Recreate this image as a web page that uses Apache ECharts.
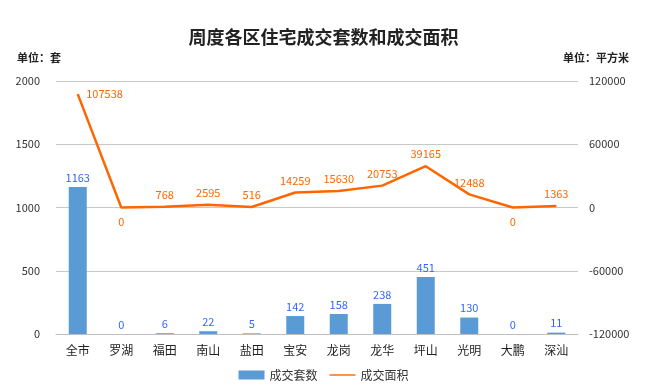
<!DOCTYPE html>
<html><head><meta charset="utf-8">
<script src="https://cdn.jsdelivr.net/npm/echarts@6/dist/echarts.min.js"></script>
<style>html,body{margin:0;padding:0;background:#fff}#c{width:647px;height:390px}</style>
</head><body><div id="c"></div>
<script>
const categories = ['全市','罗湖','福田','南山','盐田','宝安','龙岗','龙华','坪山','光明','大鹏','深汕'];
const unitsSold = [1163,0,6,22,5,142,158,238,451,130,0,11];
const areaSold = [107538,0,768,2595,516,14259,15630,20753,39165,12488,0,1363];
const leftTicks = [0,500,1000,1500,2000];
const rightTicks = [-120000,-60000,0,60000,120000];

const font = '"Noto Sans CJK SC","Noto Sans",sans-serif';
const plain = v => String(v);
const chart = echarts.init(document.getElementById('c'));
chart.setOption({
  animation:false,
  backgroundColor:'#fff',
  title:{text:'周度各区住宅成交套数和成交面积',left:'center',top:23,
    textStyle:{fontFamily:'"Noto Sans CJK SC",serif',fontSize:18,fontWeight:'bold',color:'#222'}},
  graphic:[
    {type:'text',left:17,top:52,style:{text:'单位：套',font:'bold 11px "Noto Sans CJK SC"',fill:'#222'}},
    {type:'text',right:18,top:52,style:{text:'单位：平方米',font:'bold 11px "Noto Sans CJK SC"',fill:'#222'}}
  ],
  legend:{bottom:4,left:'center',itemWidth:26,itemHeight:9,itemGap:12,
    textStyle:{fontFamily:font,fontSize:12,color:'#333'},
    data:[{name:'成交套数',icon:'rect'},{name:'成交面积',icon:'path://M0,3.8H26V5.2H0Z'}]},
  grid:{left:56,right:69,top:81,bottom:56},
  xAxis:{type:'category',data:categories,
    axisLine:{lineStyle:{color:'#bfbfbf'}},axisTick:{show:false},
    axisLabel:{fontFamily:font,fontSize:12,color:'#222',margin:10}},
  yAxis:[
    {type:'value',min:leftTicks[0],max:leftTicks[leftTicks.length-1],interval:500,
     axisLine:{show:false},axisTick:{show:false},
     axisLabel:{fontFamily:font,fontSize:11,color:'#333',margin:16,formatter:plain},
     splitLine:{lineStyle:{color:'#c8c8c8'}}},
    {type:'value',min:rightTicks[0],max:rightTicks[rightTicks.length-1],interval:60000,
     axisLine:{show:false},axisTick:{show:false},
     axisLabel:{fontFamily:font,fontSize:11,color:'#333',margin:11,formatter:plain},
     splitLine:{show:false}}
  ],
  series:[
    {name:'成交套数',type:'bar',data:unitsSold,barWidth:18,
     itemStyle:{color:'#5b9bd5'},
     label:{show:true,position:'top',color:'#3366ff',fontFamily:font,fontSize:11,distance:4}},
    {name:'成交面积',type:'line',yAxisIndex:1,data:areaSold.map((v,i)=>{
        const o={value:v};
        if(i===0) o.label={position:'right',offset:[2,0]};
        else if(v===0) o.label={position:'bottom',distance:8};
        return o;}),
     symbol:'circle',symbolSize:1,showSymbol:true,
     lineStyle:{color:'#ff6600',width:2.5},itemStyle:{color:'#ff6600'},
     label:{show:true,position:'top',color:'#ff6600',fontFamily:font,fontSize:11,distance:6,
       formatter:p=>String(p.value)}}
  ]
});
</script></body></html>
